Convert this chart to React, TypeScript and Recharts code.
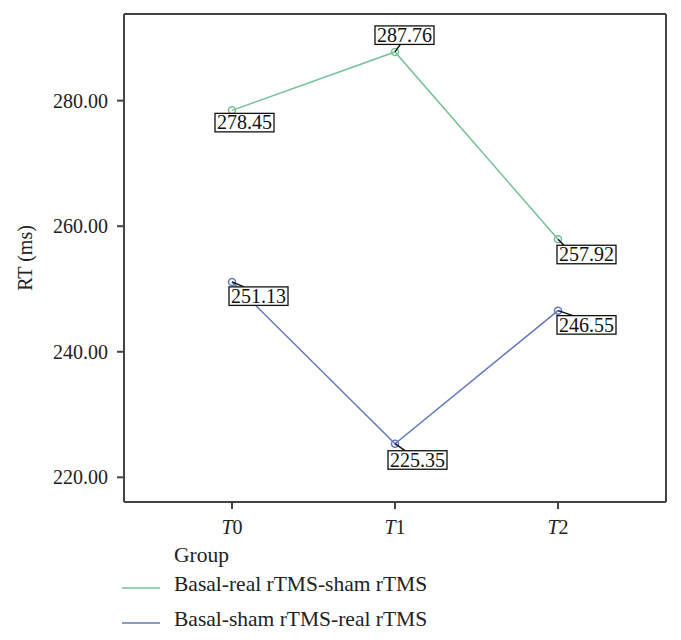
import React from 'react';
import { LineChart, Line, XAxis, YAxis, Legend, LabelList, CartesianGrid } from 'recharts';

const categories = ['T0', 'T1', 'T2'];
const seriesNames = ['Basal-real rTMS-sham rTMS', 'Basal-sham rTMS-real rTMS'];
const realShamValues = [278.45, 287.76, 257.92];
const shamRealValues = [251.13, 225.35, 246.55];
const yTicks = [220, 240, 260, 280];
const yDomain = [216.07, 293.8];
const legendTitle = 'Group';
const yAxisLabel = 'RT (ms)';

const COLORS = ['#74c295', '#6479bf'];
const FONT = '"Liberation Serif", "Times New Roman", serif';
const AXIS = '#444';

// label placement: [box dx, box dy, leader dx, leader dy] relative to the point
const greenPlacement = [[-17, 3, 0, 0], [-20, -26, 5, -7], [-1, 6, 6, 6]];
const bluePlacement = [[-3, 5, 12, 5], [-7, 7, 10, 7], [-1, 5, 15, 5]];

const data = categories.map((c, i) => ({ cat: c, a: realShamValues[i], b: shamRealValues[i] }));

const makeLabel = (placement: number[][]) => (props: any) => {
  const { x, y, value, index } = props;
  const p = placement[index] || [0, 5, 0, 0];
  const bx = x + p[0];
  const by = y + p[1];
  const w = 59;
  const h = 18.5;
  return (
    <g>
      {(p[2] !== 0 || p[3] !== 0) && (
        <line x1={x} y1={y} x2={x + p[2]} y2={y + p[3]} stroke="#111" strokeWidth={1.5} />
      )}
      <rect x={bx} y={by} width={w} height={h} fill="#fff" stroke="#111" strokeWidth={1.3} />
      <text x={bx + w / 2} y={by + h - 2.5} textAnchor="middle" fontFamily={FONT} fontSize={20} fill="#111">
        {Number(value).toFixed(2)}
      </text>
    </g>
  );
};

const XTick = (props: any) => {
  const { x, y, payload } = props;
  const s = String(payload.value);
  return (
    <text x={x} y={y + 23} textAnchor="middle" fontFamily={FONT} fontSize={20} fill="#222">
      <tspan fontStyle="italic">{s.charAt(0)}</tspan>
      <tspan>{s.slice(1)}</tspan>
    </text>
  );
};

const YLabel = (props: any) => {
  const vb = props.viewBox || {};
  const cy = (vb.y || 0) + (vb.height || 0) / 2;
  return (
    <text transform={`translate(32, ${cy}) rotate(-90)`} textAnchor="middle" fontFamily={FONT} fontSize={20} fill="#222">
      {yAxisLabel}
    </text>
  );
};

const LegendContent = (props: any) => {
  const payload = props.payload || [];
  return (
    <svg width={681} height={100} style={{ display: 'block', overflow: 'visible' }}>
      <text x={174} y={17} fontFamily={FONT} fontSize={21.5} fill="#222">{legendTitle}</text>
      {payload.map((e: any, i: number) => {
        const base = 46 + i * 35;
        return (
          <g key={i}>
            <line x1={122} x2={160} y1={base - 3} y2={base - 3} stroke={e.color} strokeWidth={1.5} />
            <text x={174} y={base} fontFamily={FONT} fontSize={21.5} fill="#222">{e.value}</text>
          </g>
        );
      })}
    </svg>
  );
};

const topFrame = (args: any) => {
  const o = args.offset || {};
  return [o.top];
};
const rightFrame = (args: any) => {
  const o = args.offset || {};
  return [o.left + o.width];
};

export default function App() {
  return (
    <div style={{ position: 'absolute', left: 0, top: 0, width: 681, height: 640, background: '#fff', overflow: 'hidden' }}>
      <LineChart width={681} height={640} data={data} margin={{ top: 14, right: 15, left: 0, bottom: 0 }}>
        <CartesianGrid
          stroke={AXIS}
          strokeWidth={2}
          horizontalCoordinatesGenerator={topFrame}
          verticalCoordinatesGenerator={rightFrame}
        />
        <XAxis
          dataKey="cat"
          type="category"
          scale="point"
          padding={{ left: 108, right: 108 }}
          height={138}
          stroke={AXIS}
          axisLine={{ stroke: AXIS, strokeWidth: 2 }}
          tickLine={{ stroke: AXIS, strokeWidth: 2 }}
          tickSize={7}
          tick={<XTick />}
        />
        <YAxis
          type="number"
          domain={yDomain}
          allowDataOverflow
          ticks={yTicks}
          width={124}
          tickSize={7}
          tickMargin={9}
          tickFormatter={(v: number) => v.toFixed(2)}
          axisLine={{ stroke: AXIS, strokeWidth: 2 }}
          tickLine={{ stroke: AXIS, strokeWidth: 2 }}
          tick={{ fontFamily: FONT, fontSize: 20, fill: '#222' }}
          label={<YLabel />}
        />
        <Legend
          layout="vertical"
          align="center"
          verticalAlign="middle"
          content={<LegendContent />}
          wrapperStyle={{ left: 0, top: 545, bottom: 'auto', width: 681, height: 100 }}
        />
        <Line
          dataKey="a"
          name={seriesNames[0]}
          stroke={COLORS[0]}
          strokeWidth={1.5}
          dot={{ r: 3.5, stroke: COLORS[0], strokeWidth: 1.5, fill: 'none' }}
          isAnimationActive={false}
        >
          <LabelList dataKey="a" content={makeLabel(greenPlacement)} />
        </Line>
        <Line
          dataKey="b"
          name={seriesNames[1]}
          stroke={COLORS[1]}
          strokeWidth={1.5}
          dot={{ r: 3.5, stroke: COLORS[1], strokeWidth: 1.5, fill: 'none' }}
          isAnimationActive={false}
        >
          <LabelList dataKey="b" content={makeLabel(bluePlacement)} />
        </Line>
      </LineChart>
    </div>
  );
}
